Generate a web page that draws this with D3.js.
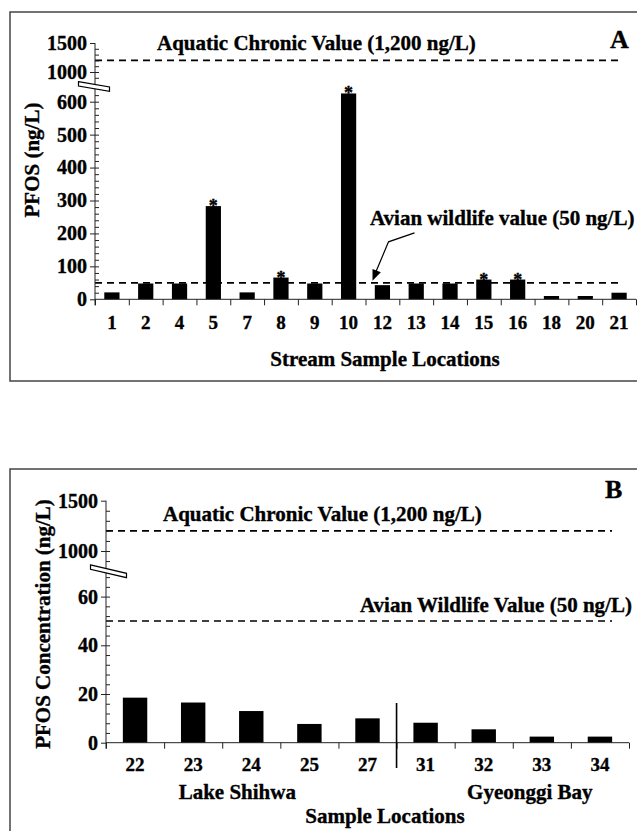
<!DOCTYPE html>
<html>
<head>
<meta charset="utf-8">
<script src="https://d3js.org/d3.v7.min.js"></script>
<style>
  body { margin: 0; background: #fff; }
  svg { display: block; font-family: "Liberation Serif", "Times New Roman", serif; font-weight: bold; }
  svg text { stroke: #000; stroke-width: 0.35px; }
  .axis path.domain { display: none; }
  .axis line { stroke: #222; }
  .axis text { fill: #000; font-family: "Liberation Serif", serif; font-weight: bold; }
</style>
</head>
<body>
<svg width="637" height="831"></svg>
<script>
// panel A - stream sites
var sitesA = ['1', '2', '4', '5', '7', '8', '9', '10', '12', '13', '14', '15', '16', '18', '20', '21'];
var pfosA = [21, 48, 48, 283, 21, 66, 48, 625, 43, 48, 48, 60, 60, 10, 10, 20];
var starredA = ['5', '8', '10', '15', '16'];
var lowTicksA = [0, 100, 200, 300, 400, 500, 600];

// panel B - lake / bay
var sitesB = ['22', '23', '24', '25', '27', '31', '32', '33', '34'];
var pfosB = [18.5, 16.5, 13, 7.7, 10, 8.2, 5.5, 2.5, 2.5];
var lowTicksB = [0, 20, 40, 60];
var groupNames = ['Lake Shihwa', 'Gyeonggi Bay'];
var groupSites = [['22', '23', '24', '25', '27'], ['31', '32', '33', '34']];

var highTicks = [1000, 1500];
var aquaticValue = 1200;
var avianValue = 50;

var svg = d3.select('svg');

function drawPanel(c) {
    var g = svg.append('g');

    // frame
    g.append('rect')
        .attr('x', 10).attr('y', c.frameTop)
        .attr('width', 700).attr('height', c.frameH)
        .attr('fill', 'none').attr('stroke', '#444').attr('stroke-width', 1.5);

    var x = d3.scaleBand().domain(c.sites).range(c.xRange).padding(0);
    var xi = d3.scaleLinear().domain([0, c.sites.length]).range(c.xRange);
    var yLow = d3.scaleLinear().domain(c.lowDomain).range([c.zeroY, c.lowTopY]);
    var yHigh = d3.scaleLinear().domain([1000, 1500]).range(c.highRange);
    var ax = c.xRange[0];
    var barW = x.bandwidth() * c.barFrac;

    // reference lines
    var refs = [
        { y: yHigh(aquaticValue), end: c.dashEnd },
        { y: yLow(avianValue), end: c.dashEnd }
    ];
    g.selectAll('.ref').data(refs).enter().append('line')
        .attr('x1', ax).attr('x2', function (d) { return d.end; })
        .attr('y1', function (d) { return d.y; }).attr('y2', function (d) { return d.y; })
        .attr('stroke', '#000').attr('stroke-width', 1.6).attr('stroke-dasharray', '7,5');

    // bars
    g.selectAll('.bar').data(c.values).enter().append('rect')
        .attr('x', function (d, i) { return x(c.sites[i]) + (x.bandwidth() - barW) / 2; })
        .attr('y', function (d) { return yLow(d); })
        .attr('width', barW)
        .attr('height', function (d) { return c.zeroY - yLow(d); })
        .attr('fill', '#000');

    // asterisks
    if (c.starred) {
        g.selectAll('.star').data(c.starred).enter().append('text')
            .attr('x', function (d) { return x(d) + x.bandwidth() / 2; })
            .attr('y', function (d) { return yLow(c.values[c.sites.indexOf(d)]) + 6; })
            .attr('text-anchor', 'middle').style('font-size', '18px')
            .text('*');
    }

    // y axis line
    g.append('line')
        .attr('x1', ax).attr('x2', ax)
        .attr('y1', c.zeroY + 6).attr('y2', yHigh(1500))
        .attr('stroke', '#222');

    var ya = g.append('g').attr('transform', 'translate(' + ax + ',0)');
    [[yLow, c.lowTicks, c.lowMinor], [yHigh, highTicks, c.highMinor]].forEach(function (p) {
        ya.append('g').attr('class', 'axis')
            .call(d3.axisLeft(p[0]).tickValues(p[1]).tickSize(5).tickPadding(3).tickFormat(d3.format('d')))
            .selectAll('text').style('font-size', '20px');
        ya.append('g').attr('class', 'axis')
            .call(d3.axisRight(p[0]).tickValues(p[2]).tickSize(4).tickFormat(''));
    });

    // axis break symbol
    var bx = ax + c.breakDx, by = c.breakY, hw = c.breakHalf, sl = c.breakSlope;
    g.append('path')
        .attr('d', 'M' + (bx - hw) + ',' + (by - sl - 2.2) + 'L' + (bx + hw) + ',' + (by + sl - 2.2) +
            'L' + (bx + hw) + ',' + (by + sl + 2.2) + 'L' + (bx - hw) + ',' + (by - sl + 2.2) + 'Z')
        .attr('fill', '#fff').attr('stroke', '#000').attr('stroke-width', 1.2);

    // x axis
    g.append('line')
        .attr('x1', ax).attr('x2', c.xRange[1])
        .attr('y1', c.zeroY).attr('y2', c.zeroY)
        .attr('stroke', '#222');
    g.append('g').attr('class', 'axis')
        .attr('transform', 'translate(0,' + c.zeroY + ')')
        .call(d3.axisBottom(xi).tickValues(d3.range(c.sites.length + 1)).tickSize(6).tickFormat(''));
    g.append('g').attr('class', 'axis')
        .attr('transform', 'translate(0,' + c.zeroY + ')')
        .call(d3.axisBottom(x).tickSize(0).tickPadding(c.catPad))
        .selectAll('text').style('font-size', '19px');

    // texts
    g.append('text').attr('x', ax + c.aquaticDx).attr('y', yHigh(aquaticValue) - 10)
        .style('font-size', '21px').text('Aquatic Chronic Value (1,200 ng/L)');
    g.append('text').attr('x', c.avianX).attr('y', yLow(avianValue) + c.avianDy)
        .style('font-size', '21px').text(c.avianText);
    g.append('text').attr('x', c.letterX).attr('y', c.frameTop + c.letterDy)
        .style('font-size', '26px').text(c.letter);
    g.append('text').attr('x', 385).attr('y', c.xTitleY)
        .attr('text-anchor', 'middle').style('font-size', '21px').text(c.xTitle);
    g.append('text')
        .attr('transform', 'translate(' + c.yTitlePos[0] + ',' + c.yTitlePos[1] + ') rotate(-90)')
        .attr('text-anchor', 'middle').style('font-size', '21px').text(c.yTitle);

    return { g: g, x: x, yLow: yLow, yHigh: yHigh };
}

var A = drawPanel({
    sites: sitesA, values: pfosA, starred: starredA,
    frameTop: 12, frameH: 369,
    xRange: [95, 636], zeroY: 299.3, lowDomain: [0, 600], lowTopY: 101.7, highRange: [72, 43],
    lowTicks: lowTicksA, lowMinor: d3.range(20, 640, 20),
    highMinor: d3.range(900, 1500, 100),
    barFrac: 0.45, catPad: 16, dashEnd: 619,
    breakDx: -1, breakY: 86.5, breakHalf: 15.5, breakSlope: 2.6,
    aquaticDx: 62, avianX: 370, avianDy: -58,
    avianText: 'Avian wildlife value (50 ng/L)',
    letter: 'A', letterX: 610, letterDy: 36,
    xTitle: 'Stream Sample Locations', xTitleY: 366,
    yTitle: 'PFOS (ng/L)', yTitlePos: [39, 160]
});

// arrow pointing at the avian line
var tip = [A.x('12') + 7, A.yLow(avianValue) - 2];
var kink = [tip[0] + 16, tip[1] - 39];
var start = [tip[0] + 42, tip[1] - 48];
A.g.append('path')
    .attr('d', 'M' + start + 'L' + kink + 'L' + [tip[0] + 3, tip[1] - 8])
    .attr('fill', 'none').attr('stroke', '#000').attr('stroke-width', 1.2);
var ang = Math.atan2(tip[1] - kink[1], tip[0] - kink[0]);
var head = [tip,
    [tip[0] - 11 * Math.cos(ang) + 4.5 * Math.sin(ang), tip[1] - 11 * Math.sin(ang) - 4.5 * Math.cos(ang)],
    [tip[0] - 11 * Math.cos(ang) - 4.5 * Math.sin(ang), tip[1] - 11 * Math.sin(ang) + 4.5 * Math.cos(ang)]];
A.g.append('path').attr('d', 'M' + head.join('L') + 'Z').attr('fill', '#000');

var B = drawPanel({
    sites: sitesB, values: pfosB, starred: null,
    frameTop: 469, frameH: 420,
    xRange: [106, 629], zeroY: 742.7, lowDomain: [0, 60], lowTopY: 596.6, highRange: [551, 500.7],
    lowTicks: lowTicksB, lowMinor: d3.range(4, 70, 4),
    highMinor: d3.range(900, 1500, 100),
    barFrac: 0.42, catPad: 15, dashEnd: 612,
    breakDx: 2.5, breakY: 571.3, breakHalf: 18, breakSlope: 4.2,
    aquaticDx: 57, avianX: 360, avianDy: -9,
    avianText: 'Avian Wildlife Value (50 ng/L)',
    letter: 'B', letterX: 605, letterDy: 29,
    xTitle: 'Sample Locations', xTitleY: 823,
    yTitle: 'PFOS Concentration (ng/L)', yTitlePos: [50, 624]
});

// group divider and group labels
var divX = B.x('31');
B.g.append('line')
    .attr('x1', divX).attr('x2', divX).attr('y1', 703).attr('y2', 768)
    .attr('stroke', '#000').attr('stroke-width', 1.6);
var groupShift = [-14, 17];
B.g.selectAll('.grp').data(groupNames).enter().append('text')
    .attr('x', function (d, i) {
        var s = groupSites[i];
        return (B.x(s[0]) + B.x(s[s.length - 1]) + B.x.bandwidth()) / 2 + groupShift[i];
    })
    .attr('y', 799)
    .attr('text-anchor', 'middle').style('font-size', '21px')
    .text(function (d) { return d; });
</script>
</body>
</html>
